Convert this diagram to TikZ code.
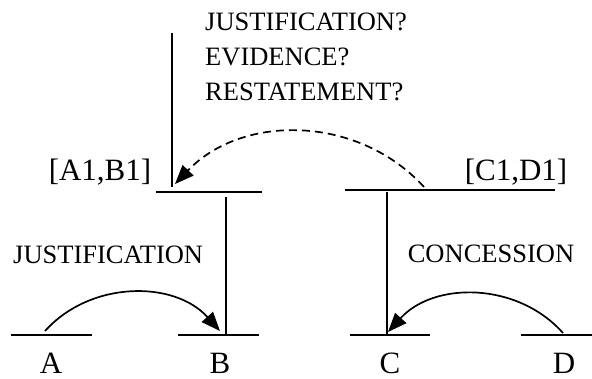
\documentclass[tikz,border=0pt]{standalone}
\usepackage{fontspec}
\setmainfont{Liberation Serif}
\usetikzlibrary{arrows.meta}

\begin{document}
\begin{tikzpicture}[
    x=1pt, y=-1pt,
    bar/.style={line width=1.7pt},
    stem/.style={line width=1.3pt},
    txt/.style={inner sep=0pt, font=\fontsize{26.5}{30}\selectfont},
    seg/.style={inner sep=0pt, font=\fontsize{31}{36}\selectfont},
    >={Triangle[length=19pt, width=15pt]}
]
    \useasboundingbox (0,0) rectangle (592,378);

    % 横线端点 (底层4段 + 上层2段)
    \coordinate (A0) at (11,335);  \coordinate (A9) at (92,335);
    \coordinate (B0) at (178,335); \coordinate (B9) at (259,335);
    \coordinate (C0) at (350,335); \coordinate (C9) at (430,335);
    \coordinate (D0) at (521,335); \coordinate (D9) at (592,335);
    \coordinate (AB0) at (156,192); \coordinate (AB9) at (262,192);
    \coordinate (CD0) at (345,190); \coordinate (CD9) at (555,190);

    % 竖线端点
    \coordinate (top) at (172,33);  \coordinate (topend) at (172,187);
    \coordinate (Bup) at (226,197); \coordinate (Bdn) at (226,335);
    \coordinate (Cup) at (387,192); \coordinate (Cdn) at (387,335);

    % 弧线端点
    \coordinate (a) at (45,331);  \coordinate (b) at (220,331);
    \coordinate (d) at (563,333); \coordinate (c) at (388,332);
    \coordinate (cd) at (424,187); \coordinate (ab) at (175,184);

    % 文字节点
    \node[txt, anchor=base west] (q1) at (205,30)  {JUSTIFICATION?};
    \node[txt, anchor=base west] (q2) at (205,65)  {EVIDENCE?};
    \node[txt, anchor=base west] (q3) at (205,100) {RESTATEMENT?};
    \node[seg, anchor=base] (labAB) at (100,180) {[A1,B1]};
    \node[seg, anchor=base] (labCD) at (516,180) {[C1,D1]};
    \node[txt, anchor=base west] (just) at (13,263) {JUSTIFICATION};
    \node[txt, anchor=base] (conc) at (491,262) {CONCESSION};
    \node[seg, anchor=base] (labA) at (51,373)  {A};
    \node[seg, anchor=base] (labB) at (220,373) {B};
    \node[seg, anchor=base] (labC) at (390,373) {C};
    \node[seg, anchor=base] (labD) at (564,373) {D};

    % 1. 横线
    \draw[bar] (A0) -- (A9);
    \draw[bar] (B0) -- (B9);
    \draw[bar] (C0) -- (C9);
    \draw[bar] (D0) -- (D9);
    \draw[bar] (AB0) -- (AB9);
    \draw[bar] (CD0) -- (CD9);

    % 2. 竖线
    \draw[stem] (top) -- (topend);
    \draw[stem] (Bup) -- (Bdn);
    \draw[stem] (Cup) -- (Cdn);

    % 3. A 指向 B 的弧线
    \draw[bar, ->] (a) to[bend left=48] (b);

    % 4. D 指向 C 的弧线
    \draw[bar, ->] (d) to[bend right=48] (c);

    % 5. [C1,D1] 指向 [A1,B1] 的虚线弧
    \draw[bar, ->, dash pattern=on 8pt off 5pt] (cd) to[bend right=47] (ab);

\end{tikzpicture}
\end{document}
